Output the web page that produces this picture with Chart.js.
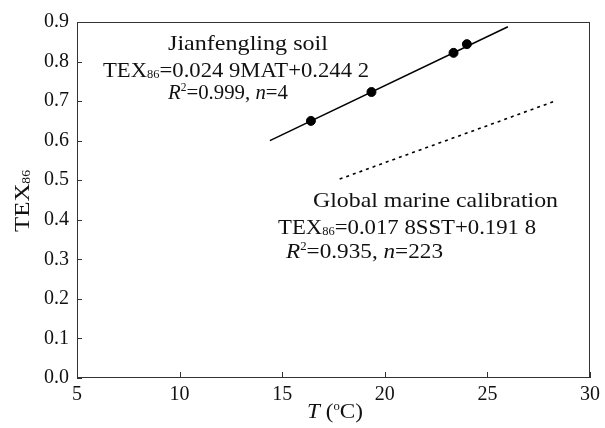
<!DOCTYPE html>
<html><head><meta charset="utf-8">
<script src="https://cdn.jsdelivr.net/npm/chart.js@4"></script>
<style>html,body{margin:0;padding:0;background:#fff}#wrap{width:605px;height:428px}</style>
</head><body><div id="wrap"><canvas id="c" width="605" height="428"></canvas></div>
<script>
// ---- data ----
const soilT = [16.4, 19.35, 23.35, 24.0];
const soilTEX = [0.650, 0.723, 0.822, 0.844];
const soilFitT = [14.4, 26.0];
const soilFitTEX = [0.600, 0.888];
const marineFitT = [17.8, 28.3];
const marineFitTEX = [0.503, 0.700];
const xTickValues = [5, 10, 15, 20, 25, 30];
const yTickValues = [0, 0.1, 0.2, 0.3, 0.4, 0.5, 0.6, 0.7, 0.8, 0.9];

// annotation texts (segments: s = sub, p = sup, i = italic)
const soilLines = [
  [{t:'Jianfengling soil'}],
  [{t:'TEX'},{t:'86',s:1},{t:'=0.024 9MAT+0.244 2'}],
  [{t:'R',i:1},{t:'2',p:1},{t:'=0.999, '},{t:'n',i:1},{t:'=4'}]
];
const marineLines = [
  [{t:'Global marine calibration'}],
  [{t:'TEX'},{t:'86',s:1},{t:'=0.017 8SST+0.191 8'}],
  [{t:'R',i:1},{t:'2',p:1},{t:'=0.935, '},{t:'n',i:1},{t:'=223'}]
];
const yTitle = [{t:'TEX'},{t:'86',s:1}];
const xTitle = [{t:'T',i:1},{t:' ('},{t:'o',p:1},{t:'C)'}];

const FONT = '"Liberation Serif", "Times New Roman", serif';
const INK = '#111';

function segFont(seg, size){
  const sz = (seg.s||seg.p) ? size*0.55 : size;
  return (seg.i ? 'italic ' : '') + sz + 'px ' + FONT;
}
function richWidth(ctx, segs, size){
  let w = 0;
  for (const g of segs){ ctx.font = segFont(g,size); w += ctx.measureText(g.t).width; }
  return w;
}
// draw rich text starting at `left`, baseline `base`, stretched to width `target`
function drawRich(ctx, segs, left, base, size, target){
  const w = richWidth(ctx, segs, size);
  const k = target ? target / w : 1;
  ctx.save();
  ctx.translate(left, base);
  ctx.scale(k, 1);
  ctx.textBaseline = 'alphabetic';
  ctx.textAlign = 'left';
  ctx.fillStyle = INK;
  let cx = 0;
  for (const g of segs){
    ctx.font = segFont(g,size);
    let by = 0;
    if (g.s) by = size*0.04;
    if (g.p) by = -size*0.4;
    ctx.fillText(g.t, cx, by);
    cx += ctx.measureText(g.t).width;
  }
  ctx.restore();
}

const decor = {
  id: 'decor',
  afterDraw(chart){
    const {ctx, chartArea: a, scales} = chart;
    const xs = scales.x, ys = scales.y;
    ctx.save();
    // frame
    ctx.strokeStyle = '#333';
    ctx.lineWidth = 1;
    ctx.strokeRect(Math.round(a.left)+0.5, Math.round(a.top)+0.5, Math.round(a.right-a.left)-1, Math.round(a.bottom-a.top)-1);
    // inward ticks
    ctx.beginPath();
    for (const v of xTickValues){
      const px = Math.round(xs.getPixelForValue(v)) + 0.5;
      ctx.moveTo(px, a.bottom); ctx.lineTo(px, a.bottom - 6);
    }
    for (const v of yTickValues){
      const py = Math.round(ys.getPixelForValue(v)) + 0.5;
      ctx.moveTo(a.left, py); ctx.lineTo(a.left + 5, py);
    }
    ctx.stroke();
    // annotations
    const size = 21;
    drawRich(ctx, soilLines[0], 168, 50, size, 160);
    drawRich(ctx, soilLines[1], 103, 77, size, 266);
    drawRich(ctx, soilLines[2], 168, 99, size, 120);
    drawRich(ctx, marineLines[0], 313, 207, size, 245);
    drawRich(ctx, marineLines[1], 278, 234, size, 258);
    drawRich(ctx, marineLines[2], 286, 258, size, 157);
    // axis titles
    ctx.save();
    ctx.translate(29, 232);
    ctx.rotate(-Math.PI/2);
    drawRich(ctx, yTitle, 0, 0, 22, 62);
    ctx.restore();
    drawRich(ctx, xTitle, 307, 418, 21, 56);
    ctx.restore();
  }
};

const pts = (xs, ys) => xs.map((x, i) => ({x, y: ys[i]}));

new Chart(document.getElementById('c'), {
  type: 'scatter',
  data: {
    datasets: [
      {label:'Jianfengling fit', type:'line', data: pts(soilFitT, soilFitTEX), borderColor:'#000', borderWidth:1.5, pointRadius:0, fill:false},
      {label:'Global marine fit', type:'line', data: pts(marineFitT, marineFitTEX), borderColor:'#000', borderWidth:1.6, borderDash:[3,4], pointRadius:0, fill:false},
      {label:'Jianfengling soil', data: pts(soilT, soilTEX), backgroundColor:'#000', borderColor:'#000', pointRadius:4.5, pointHoverRadius:4.5}
    ]
  },
  options: {
    responsive: false,
    animation: false,
    devicePixelRatio: 1,
    layout: {padding: {top: 22, right: 14, left: 0, bottom: 0}},
    plugins: {legend: {display: false}, tooltip: {enabled: false}},
    scales: {
      x: {
        type: 'linear', min: 5, max: 30,
        afterBuildTicks: s => { s.ticks = xTickValues.map(v => ({value: v})); },
        afterFit: s => { s.height = 50; },
        grid: {display: false, drawTicks: false},
        border: {display: false},
        ticks: {color: INK, padding: 5, font: {family: FONT, size: 20}, maxRotation: 0, autoSkip: false}
      },
      y: {
        min: 0, max: 0.9,
        afterBuildTicks: s => { s.ticks = yTickValues.map(v => ({value: v})); },
        afterFit: s => { s.width = 77; },
        grid: {display: false, drawTicks: false},
        border: {display: false},
        ticks: {color: INK, padding: 8, font: {family: FONT, size: 20}, autoSkip: false, callback: v => Number(v).toFixed(1)}
      }
    }
  },
  plugins: [decor]
});
</script>
</body></html>
